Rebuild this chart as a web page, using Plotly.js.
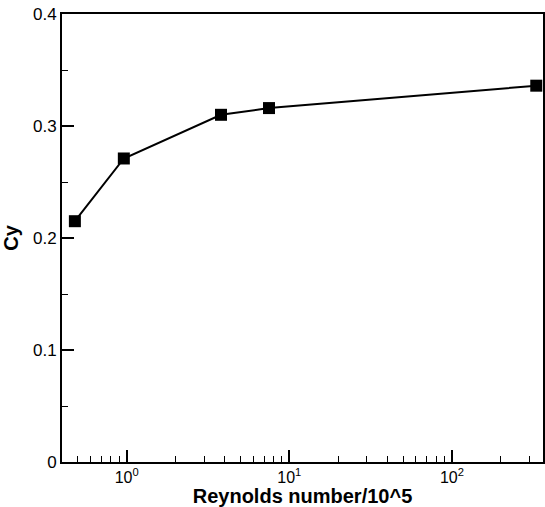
<!DOCTYPE html>
<html>
<head>
<meta charset="utf-8">
<script src="https://cdn.plot.ly/plotly-3.0.1.min.js"></script>
<style>html,body{margin:0;padding:0;background:#fff;}#chart{width:545px;height:507px;}</style>
</head>
<body>
<div id="chart"></div>
<script>
const reynolds = [0.48, 0.96, 3.8, 7.5, 330];
const cy = [0.215, 0.271, 0.310, 0.316, 0.336];
const xTickVals = [1, 10, 100];
const xTickText = ["10<sup>0</sup>", "10<sup>1</sup>", "10<sup>2</sup>"];
const yTickVals = [0, 0.1, 0.2, 0.3, 0.4];
const yTickText = ["0", "0.1", "0.2", "0.3", "0.4"];

const trace = {
  x: reynolds, y: cy, type: 'scatter', mode: 'lines+markers',
  line: {color: '#000', width: 2},
  marker: {symbol: 'square', size: 12, color: '#000'},
  cliponaxis: false
};
const layout = {
  width: 545, height: 507,
  margin: {l: 62, r: 2, t: 14, b: 45},
  paper_bgcolor: '#fff', plot_bgcolor: '#fff',
  showlegend: false,
  font: {family: 'Liberation Sans, Arial, sans-serif', color: '#000', size: 17},
  xaxis: {
    type: 'log', range: [Math.log10(0.4), Math.log10(363)],
    tickvals: xTickVals, ticktext: xTickText,
    ticks: 'inside', ticklen: 12, tickwidth: 2, tickcolor: '#000',
    minor: {ticks: 'inside', ticklen: 6, tickwidth: 1, tickcolor: '#000', dtick: 'D1', showgrid: false},
    showline: true, linewidth: 2, linecolor: '#000', mirror: true,
    showgrid: false, zeroline: false,
    tickfont: {size: 16},
    title: {text: 'Reynolds number/10^5', font: {size: 20, weight: 'bold'}, standoff: 7}
  },
  yaxis: {
    range: [0, 0.4], tickvals: yTickVals, ticktext: yTickText,
    ticks: 'inside', ticklen: 12, tickwidth: 2, tickcolor: '#000',
    minor: {ticks: 'inside', ticklen: 6, tickwidth: 1, tickcolor: '#000', dtick: 0.05, showgrid: false},
    showline: true, linewidth: 2, linecolor: '#000', mirror: true,
    showgrid: false, zeroline: false,
    tickfont: {size: 17},
    title: {text: 'Cy', font: {size: 20, weight: 'bold'}, standoff: 12}
  }
};
Plotly.newPlot('chart', [trace], layout, {displayModeBar: false, staticPlot: true});
</script>
</body>
</html>
